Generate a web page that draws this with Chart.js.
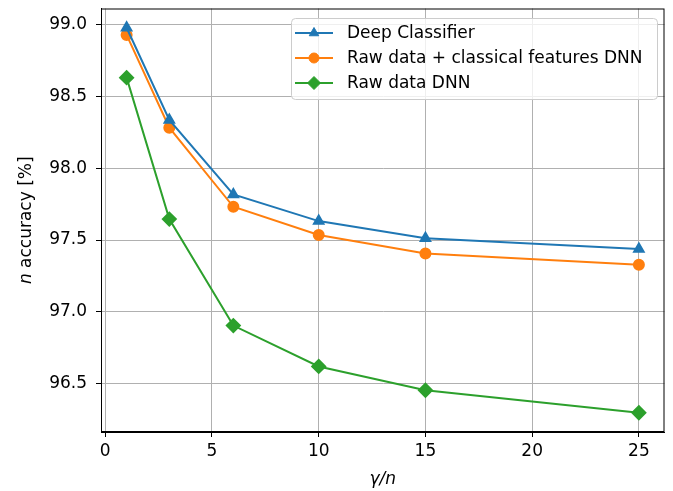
<!DOCTYPE html>
<html>
<head>
<meta charset="utf-8">
<script src="https://cdn.jsdelivr.net/npm/chart.js@4/dist/chart.umd.min.js"></script>
<style>
  html, body { margin: 0; padding: 0; background: #fff; }
  #wrap { width: 673px; height: 491px; }
</style>
</head>
<body>
<div id="wrap"><canvas id="accChart" width="673" height="491"></canvas></div>
<script>
// valores
const ratios = [1, 3, 6, 10, 15, 25];
const deepClassifier = [98.98, 98.337, 97.818, 97.632, 97.512, 97.437];
const rawPlusFeatures = [98.93, 98.283, 97.732, 97.535, 97.407, 97.328];
const rawOnly = [98.632, 97.646, 96.904, 96.619, 96.453, 96.296];
const xTicks = [0, 5, 10, 15, 20, 25];
const yTicks = [96.5, 97.0, 97.5, 98.0, 98.5, 99.0];

const FONT = "'DejaVu Sans', sans-serif";
const FSIZE = 17;

function pts(ys) {
  return ratios.map((x, i) => ({ x: x, y: ys[i] }));
}

// moldura, títulos dos eixos e legenda no estilo matplotlib
const extras = {
  id: 'extras',
  afterDraw(chart) {
    const ctx = chart.ctx;
    const a = chart.chartArea;
    ctx.save();
    // moldura
    ctx.strokeStyle = '#000';
    ctx.lineWidth = 1;
    ctx.strokeRect(a.left + 0.5, a.top + 0.5, a.right - a.left - 1, a.bottom - a.top - 1);

    // título do eixo y: "n accuracy [%]" com n em itálico
    ctx.fillStyle = '#000';
    ctx.textBaseline = 'middle';
    ctx.save();
    ctx.translate(27, (a.top + a.bottom) / 2);
    ctx.rotate(-Math.PI / 2);
    const fItal = 'italic ' + FSIZE + 'px ' + FONT;
    const fNorm = FSIZE + 'px ' + FONT;
    ctx.font = fItal;
    const w1 = ctx.measureText('n').width;
    ctx.font = fNorm;
    const w2 = ctx.measureText(' accuracy [%]').width;
    let sx = -(w1 + w2) / 2;
    ctx.textAlign = 'left';
    ctx.font = fItal;
    ctx.fillText('n', sx, 0);
    ctx.font = fNorm;
    ctx.fillText(' accuracy [%]', sx + w1, 0);
    ctx.restore();

    // título do eixo x
    ctx.font = fItal;
    ctx.textAlign = 'center';
    ctx.fillText('\u03b3/n', (a.left + a.right) / 2, 480);

    // legenda
    const bx = 291, by = 18, bw = 366, bh = 81;
    ctx.beginPath();
    ctx.roundRect(bx + 0.5, by + 0.5, bw, bh, 4);
    ctx.fillStyle = 'rgba(255,255,255,0.8)';
    ctx.fill();
    ctx.strokeStyle = '#cccccc';
    ctx.stroke();
    chart.data.datasets.forEach((ds, i) => {
      const y = 33 + i * 25;
      ctx.strokeStyle = ds.borderColor;
      ctx.lineWidth = ds.borderWidth;
      ctx.beginPath();
      ctx.moveTo(295, y);
      ctx.lineTo(333, y);
      ctx.stroke();
      ctx.fillStyle = ds.pointBackgroundColor;
      ctx.strokeStyle = ds.pointBorderColor;
      ctx.lineWidth = 1;
      Chart.helpers.drawPoint(ctx, { pointStyle: ds.pointStyle, radius: ds.pointRadius, rotation: 0, borderWidth: 1 }, 314, y);
      ctx.fillStyle = '#000';
      ctx.font = fNorm;
      ctx.textAlign = 'left';
      ctx.textBaseline = 'middle';
      ctx.fillText(ds.label, 347, y + 1);
    });
    ctx.restore();
  }
};

function series(label, ys, color, style, r) {
  return {
    label: label,
    data: pts(ys),
    borderColor: color,
    backgroundColor: color,
    pointBackgroundColor: color,
    pointBorderColor: color,
    borderWidth: 2,
    pointStyle: style,
    pointRadius: r,
    pointHoverRadius: r,
    tension: 0,
    clip: false
  };
}

function noPad(s) {
  s.paddingTop = 0;
  s.paddingBottom = 0;
  s.paddingLeft = 0;
  s.paddingRight = 0;
}

new Chart(document.getElementById('accChart').getContext('2d'), {
  type: 'line',
  data: {
    datasets: [
      series('Deep Classifier', deepClassifier, '#1f77b4', 'triangle', 5.5),
      series('Raw data + classical features DNN', rawPlusFeatures, '#ff7f0e', 'circle', 5),
      series('Raw data DNN', rawOnly, '#2ca02c', 'rectRot', 6.5)
    ]
  },
  options: {
    responsive: false,
    animation: false,
    layout: { padding: { top: 8, right: 7, left: 0, bottom: 0 } },
    plugins: { legend: { display: false }, tooltip: { enabled: false } },
    scales: {
      x: {
        type: 'linear',
        min: -0.2,
        max: 26.2,
        afterBuildTicks: s => { s.ticks = xTicks.map(v => ({ value: v })); },
        afterFit: s => { s.height = 59; noPad(s); },
        grid: { color: '#b0b0b0', lineWidth: 1, tickLength: 5, tickColor: '#000' },
        border: { color: '#000', width: 1 },
        ticks: { color: '#000', font: { family: FONT, size: FSIZE }, padding: 4, maxRotation: 0, callback: v => String(v) }
      },
      y: {
        type: 'linear',
        min: 96.162,
        max: 99.114,
        afterBuildTicks: s => { s.ticks = yTicks.map(v => ({ value: v })); },
        afterFit: s => { s.width = 101; noPad(s); },
        grid: { color: '#b0b0b0', lineWidth: 1, tickLength: 5, tickColor: '#000' },
        border: { color: '#000', width: 1 },
        ticks: { color: '#000', font: { family: FONT, size: FSIZE }, padding: 9, callback: v => v.toFixed(1) }
      }
    }
  },
  plugins: [extras]
});
</script>
</body>
</html>
